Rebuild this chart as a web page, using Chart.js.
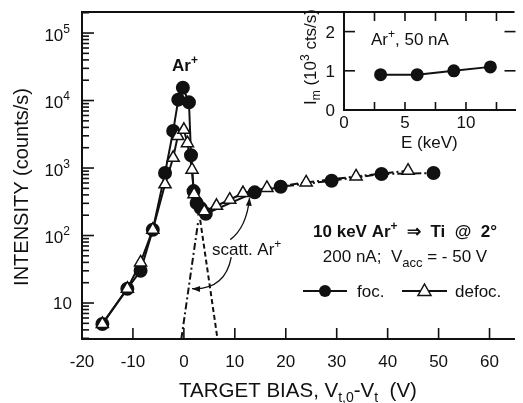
<!DOCTYPE html>
<html>
<head>
<meta charset="utf-8">
<script src="https://cdn.jsdelivr.net/npm/chart.js@4.4.1/dist/chart.umd.min.js"></script>
<style>
  html, body { margin: 0; padding: 0; background: #fff; }
  #wrap { position: relative; width: 523px; height: 403px; overflow: hidden; }
  #mainChart { position: absolute; left: 0; top: 0; }
  #insetChart { position: absolute; left: 290px; top: 0; }
</style>
</head>
<body>
<div id="wrap">
  <canvas id="mainChart" width="523" height="403"></canvas>
  <canvas id="insetChart" width="233" height="160"></canvas>
</div>
<script>
// target bias (V) vs. Ar+ intensity (counts/s)
const focBias = [-16, -11.1, -8.5, -6.1, -3.7, -2.1, -1.1, -0.2, 1.0, 1.4, 1.9, 2.5, 3.3, 4.3, 13.9, 19.0, 29.0, 38.8, 49.0];
const focIntensity = [4.9, 16.3, 30, 122, 843, 3550, 10300, 15500, 9400, 1550, 455, 303, 255, 210, 436, 528, 649, 815, 843];
const defocBias = [-16, -11.1, -8.5, -6.1, -3.7, -2.1, -1.2, 0.0, 0.7, 1.6, 2.0, 4.0, 6.4, 9.0, 11.6, 16.3, 24.0, 33.8, 44.0];
const defocIntensity = [4.9, 16.3, 40, 122, 575, 1420, 2970, 3690, 2330, 944, 410, 228, 276, 339, 426, 506, 612, 751, 912];

// scattered Ar+ tails under the peak
const tailLeftBias = [-0.5, 2.85];
const tailLeftIntensity = [2.93, 170];
const tailRightBias = [3.2, 6.6];
const tailRightIntensity = [170, 2.93];

const xTickValues = [-20, -10, 0, 10, 20, 30, 40, 50, 60];
const yDecades = [1, 2, 3, 4, 5];

// inset: peak intensity vs. energy
const insetEnergy = [3, 6, 9, 12];
const insetIm = [0.9, 0.9, 1.0, 1.1];
const insetXTicks = [2.5, 5, 7.5, 10, 12.5];
const insetXLabels = [0, 5, 10];
const insetYLabels = [0, 1, 2];

const FONT = "'Liberation Sans', Arial, Helvetica, sans-serif";
const INK = '#111';

function pts(xs, ys) {
  return xs.map((x, i) => ({ x: x, y: ys[i] }));
}

// text made of runs with their own size / weight / vertical shift
function drawRich(ctx, parts, x, y, align) {
  let total = 0;
  parts.forEach(p => {
    ctx.font = (p.b ? 'bold ' : '') + p.s + 'px ' + FONT;
    p.w = ctx.measureText(p.t).width;
    total += p.w;
  });
  let cx = align === 'center' ? x - total / 2 : align === 'right' ? x - total : x;
  ctx.textAlign = 'left';
  ctx.textBaseline = 'alphabetic';
  ctx.fillStyle = INK;
  parts.forEach(p => {
    ctx.font = (p.b ? 'bold ' : '') + p.s + 'px ' + FONT;
    ctx.fillText(p.t, cx, y + (p.dy || 0));
    cx += p.w;
  });
}

function line(ctx, x1, y1, x2, y2) {
  ctx.beginPath();
  ctx.moveTo(x1, y1);
  ctx.lineTo(x2, y2);
  ctx.stroke();
}

function arrow(ctx, p0, c, tip) {
  ctx.beginPath();
  ctx.moveTo(p0.x, p0.y);
  ctx.quadraticCurveTo(c.x, c.y, tip.x, tip.y);
  ctx.stroke();
  const a = Math.atan2(tip.y - c.y, tip.x - c.x);
  ctx.beginPath();
  ctx.moveTo(tip.x, tip.y);
  ctx.lineTo(tip.x - 8 * Math.cos(a) + 3 * Math.sin(a), tip.y - 8 * Math.sin(a) - 3 * Math.cos(a));
  ctx.lineTo(tip.x - 8 * Math.cos(a) - 3 * Math.sin(a), tip.y - 8 * Math.sin(a) + 3 * Math.cos(a));
  ctx.closePath();
  ctx.fill();
}

const mainDecor = {
  id: 'mainDecor',
  afterDraw(chart) {
    const ctx = chart.ctx;
    const xs = chart.scales.x, ys = chart.scales.y;
    const area = chart.chartArea;
    ctx.save();
    ctx.strokeStyle = INK;
    ctx.fillStyle = INK;

    // frame top
    ctx.lineWidth = 2;
    line(ctx, area.left - 1, area.top, area.right, area.top);

    // inward ticks
    ctx.lineWidth = 1.6;
    xTickValues.forEach(v => {
      const px = xs.getPixelForValue(v);
      line(ctx, px, area.bottom, px, area.bottom - 11);
    });
    for (let d = 0; d <= 5; d++) {
      for (let k = 1; k <= 9; k++) {
        const v = k * Math.pow(10, d);
        if (v < ys.min || v > ys.max) continue;
        const py = ys.getPixelForValue(v);
        line(ctx, area.left, py, area.left + (k === 1 ? 12 : 7), py);
      }
    }

    // decade labels
    yDecades.forEach(d => {
      const py = ys.getPixelForValue(Math.pow(10, d));
      if (d === 1) {
        drawRich(ctx, [{ t: '10', s: 17 }], 72, py + 6, 'right');
      } else {
        drawRich(ctx, [{ t: '10', s: 17 }, { t: String(d), s: 12, dy: -8 }], 70, py + 7.5, 'right');
      }
    });

    // axis titles
    drawRich(ctx, [
      { t: 'TARGET BIAS, V', s: 20.5 },
      { t: 't,0', s: 14, dy: 5 },
      { t: '-V', s: 20.5 },
      { t: 't', s: 14, dy: 5 },
      { t: '  (V)', s: 20.5 }
    ], 298, 397, 'center');
    ctx.save();
    ctx.translate(28, 187);
    ctx.rotate(-Math.PI / 2);
    drawRich(ctx, [{ t: 'INTENSITY (counts/s)', s: 20 }], 0, 0, 'center');
    ctx.restore();

    // peak label and condition text
    drawRich(ctx, [{ t: 'Ar', s: 17, b: true }, { t: '+', s: 12, b: true, dy: -7 }], 172, 71, 'left');
    drawRich(ctx, [
      { t: '10 keV Ar', s: 17, b: true },
      { t: '+', s: 12, b: true, dy: -7 },
      { t: '  \u21D2  Ti  @  2\u00B0', s: 17, b: true }
    ], 405, 237, 'center');
    drawRich(ctx, [
      { t: '200 nA;  V', s: 17 },
      { t: 'acc', s: 13, dy: 5 },
      { t: ' = - 50 V', s: 17 }
    ], 405, 262, 'center');

    // scattered Ar+ label with arrows
    drawRich(ctx, [{ t: 'scatt. Ar', s: 17 }, { t: '+', s: 12, dy: -7 }], 212, 255, 'left');
    const P = (x, y) => ({ x: xs.getPixelForValue(x), y: ys.getPixelForValue(y) });
    ctx.lineWidth = 1.3;
    arrow(ctx, P(9.1, 87), P(12.3, 131), P(12.9, 363));
    arrow(ctx, P(9.3, 48), P(8.1, 15.7), P(1.6, 16.3));

    // legend
    ctx.lineWidth = 2;
    const ly = 291;
    line(ctx, 303, ly, 347, ly);
    ctx.beginPath();
    ctx.arc(325, ly, 6, 0, Math.PI * 2);
    ctx.fill();
    drawRich(ctx, [{ t: 'foc.', s: 17 }], 357, ly + 6, 'left');
    line(ctx, 402, ly, 447, ly);
    ctx.fillStyle = '#fff';
    ctx.lineWidth = 1.5;
    ctx.beginPath();
    ctx.moveTo(424.5, ly - 7);
    ctx.lineTo(431, ly + 4.5);
    ctx.lineTo(418, ly + 4.5);
    ctx.closePath();
    ctx.fill();
    ctx.stroke();
    drawRich(ctx, [{ t: 'defoc.', s: 17 }], 455, ly + 6, 'left');
    ctx.restore();
  }
};

const dashDot = [8, 3, 2, 3];
const plateauDash = ctx => (ctx.p0.parsed.x >= 11 ? dashDot : undefined);

new Chart(document.getElementById('mainChart').getContext('2d'), {
  type: 'line',
  data: {
    datasets: [
      {
        label: 'defoc.',
        data: pts(defocBias, defocIntensity),
        borderColor: INK,
        borderWidth: 2,
        pointStyle: 'triangle',
        pointRadius: 7,
        pointBackgroundColor: '#fff',
        pointBorderColor: INK,
        pointBorderWidth: 1.5,
        segment: { borderDash: plateauDash },
        order: 0
      },
      {
        label: 'foc.',
        data: pts(focBias, focIntensity),
        borderColor: INK,
        borderWidth: 2,
        pointStyle: 'circle',
        pointRadius: 6,
        pointBackgroundColor: INK,
        pointBorderColor: INK,
        segment: { borderDash: plateauDash },
        order: 1
      },
      {
        label: 'tail left',
        data: pts(tailLeftBias, tailLeftIntensity),
        borderColor: INK,
        borderWidth: 2,
        borderDash: [7, 3, 2, 3],
        pointRadius: 0,
        order: 2
      },
      {
        label: 'tail right',
        data: pts(tailRightBias, tailRightIntensity),
        borderColor: INK,
        borderWidth: 2,
        borderDash: [5, 3],
        pointRadius: 0,
        order: 2
      }
    ]
  },
  options: {
    responsive: false,
    animation: false,
    devicePixelRatio: 1,
    layout: { padding: { top: 12, right: 0, left: 0, bottom: 0 } },
    plugins: { legend: { display: false }, tooltip: { enabled: false } },
    scales: {
      x: {
        type: 'linear',
        min: -20,
        max: 64.9,
        grid: { display: false, drawTicks: false },
        border: { display: true, color: INK, width: 2 },
        ticks: { font: { family: FONT, size: 17 }, color: INK, padding: 13 },
        afterBuildTicks: s => { s.ticks = xTickValues.map(v => ({ value: v })); },
        afterFit: s => { s.height = 64; }
      },
      y: {
        type: 'logarithmic',
        min: 2.93,
        max: 2.05e5,
        grid: { display: false, drawTicks: false },
        border: { display: true, color: INK, width: 2 },
        ticks: { display: false },
        afterFit: s => { s.width = 82; }
      }
    }
  },
  plugins: [mainDecor]
});

const insetDecor = {
  id: 'insetDecor',
  afterDraw(chart) {
    const ctx = chart.ctx;
    const xs = chart.scales.x, ys = chart.scales.y;
    const area = chart.chartArea;
    ctx.save();
    ctx.strokeStyle = INK;
    ctx.lineWidth = 1.6;
    insetXTicks.forEach(v => {
      const px = xs.getPixelForValue(v);
      line(ctx, px, area.bottom, px, area.bottom - 8);
      line(ctx, px, area.top, px, area.top + 9);
    });
    [1, 2].forEach(v => {
      const py = ys.getPixelForValue(v);
      line(ctx, area.left, py, area.left + 11, py);
      line(ctx, area.right, py, area.right - 11, py);
    });
    insetXLabels.forEach(v => {
      drawRich(ctx, [{ t: String(v), s: 17 }], xs.getPixelForValue(v), area.bottom + 18, 'center');
    });
    insetYLabels.forEach(v => {
      drawRich(ctx, [{ t: String(v), s: 17 }], 45, ys.getPixelForValue(v) + 6, 'right');
    });
    drawRich(ctx, [{ t: 'E (keV)', s: 17 }], xs.getPixelForValue(7), 148, 'center');
    ctx.save();
    ctx.translate(26, 57);
    ctx.rotate(-Math.PI / 2);
    drawRich(ctx, [
      { t: 'I', s: 17 },
      { t: 'm', s: 12, dy: 4 },
      { t: ' (10', s: 17 },
      { t: '3', s: 12, dy: -7 },
      { t: ' cts/s)', s: 17 }
    ], 0, 0, 'center');
    ctx.restore();
    drawRich(ctx, [
      { t: 'Ar', s: 17 },
      { t: '+', s: 12, dy: -7 },
      { t: ', 50 nA', s: 17 }
    ], 81, 45, 'left');
    ctx.restore();
  }
};

new Chart(document.getElementById('insetChart').getContext('2d'), {
  type: 'line',
  data: {
    datasets: [{
      label: 'Im',
      data: pts(insetEnergy, insetIm),
      borderColor: INK,
      borderWidth: 2,
      pointRadius: 5.5,
      pointBackgroundColor: INK,
      pointBorderColor: INK
    }]
  },
  options: {
    responsive: false,
    animation: false,
    devicePixelRatio: 1,
    layout: { padding: { top: 12, right: 0, left: 0, bottom: 0 } },
    plugins: { legend: { display: false }, tooltip: { enabled: false } },
    scales: {
      x: {
        type: 'linear',
        min: 0,
        max: 14.06,
        grid: { display: false, drawTicks: false },
        border: { display: true, color: INK, width: 2 },
        ticks: { display: false },
        afterFit: s => { s.height = 50; }
      },
      y: {
        type: 'linear',
        min: 0,
        max: 2.5,
        grid: { display: false, drawTicks: false },
        border: { display: true, color: INK, width: 2 },
        ticks: { display: false },
        afterFit: s => { s.width = 54; }
      }
    }
  },
  plugins: [insetDecor]
});
</script>
</body>
</html>
